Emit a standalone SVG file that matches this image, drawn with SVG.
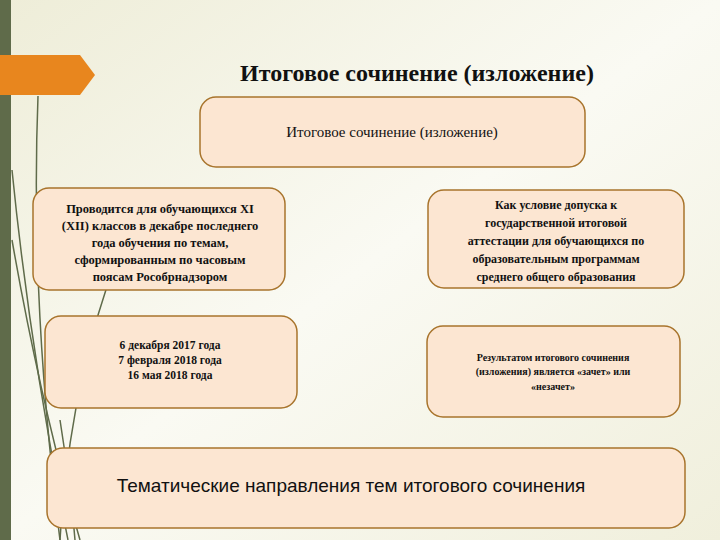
<svg xmlns="http://www.w3.org/2000/svg" width="720" height="540" viewBox="0 0 720 540">
<defs>
<linearGradient id="bg" x1="0" y1="0" x2="1" y2="1">
<stop offset="0" stop-color="#eeedd8"/><stop offset="0.5" stop-color="#fafaf3"/><stop offset="1" stop-color="#f0efdc"/>
</linearGradient>
<style>
.box{fill:#fce6d2;stroke:#a8742c;stroke-width:1.5}
.s{font-family:"Liberation Serif","Times New Roman",serif;font-weight:bold;fill:#111;text-anchor:middle}
.deco{fill:none;stroke:#5f6b4a;stroke-width:1.5}
</style>
</defs>
<rect width="720" height="540" fill="url(#bg)"/>
<rect x="0" y="0" width="11" height="540" fill="#5f6b4a"/>
<g id="decor">
<path class="deco" d="M38 96 Q30 300 60 540"/>
<path class="deco" d="M12 170 Q30 350 68 540" stroke-width="2.5"/>
<path class="deco" d="M12 240 Q40 400 80 540"/>
<path class="deco" d="M120 250 Q70 380 60 540" stroke="#8a9a70" stroke-width="1"/>
<path class="deco" d="M60 420 Q70 480 75 540" stroke-width="2.5"/>
</g>
<polygon id="tab" points="0,55 80,55 95,75 80,95 0,95" fill="#e8861e"/>
<text class="s" x="417" y="81" font-size="24">Итоговое сочинение (изложение)</text>
<g id="top"><rect class="box" x="200" y="97" width="385" height="70" rx="16"/>
<text class="s" x="392" y="137" font-size="15" style="font-weight:normal">Итоговое сочинение (изложение)</text></g>
<g id="left1"><rect class="box" x="33" y="188" width="252" height="102" rx="16"/>
<text class="s" font-size="12.5"><tspan x="160" y="213">Проводится для обучающихся XI</tspan><tspan x="160" y="230">(XII) классов  в декабре последнего</tspan><tspan x="160" y="247">года обучения  по темам,</tspan><tspan x="160" y="264">сформированным по часовым</tspan><tspan x="160" y="281">поясам Рособрнадзором</tspan></text></g>
<g id="right1"><rect class="box" x="428" y="190" width="256" height="98" rx="16"/>
<text class="s" font-size="12"><tspan x="556" y="209">Как условие допуска к</tspan><tspan x="556" y="227">государственной итоговой</tspan><tspan x="556" y="245">аттестации для обучающихся по</tspan><tspan x="556" y="263">образовательным программам</tspan><tspan x="556" y="281">среднего общего образования</tspan></text></g>
<g id="left2"><rect class="box" x="45" y="316" width="252" height="92" rx="16"/>
<text class="s" font-size="11.5"><tspan x="170" y="349">6 декабря  2017 года</tspan><tspan x="170" y="364">7 февраля  2018 года</tspan><tspan x="170" y="379">16 мая  2018 года</tspan></text></g>
<g id="right2"><rect class="box" x="427" y="326" width="253" height="91" rx="16"/>
<text class="s" font-size="10"><tspan x="553" y="361">Результатом  итогового сочинения</tspan><tspan x="553" y="375">(изложения) является  «зачет»  или</tspan><tspan x="553" y="390">«незачет»</tspan></text></g>
<g id="bottom"><rect class="box" x="47" y="448" width="638" height="80" rx="16"/>
<text x="351" y="492" font-family="'Liberation Sans',Arial,sans-serif" font-size="19" text-anchor="middle" fill="#111">Тематические направления тем итогового сочинения</text></g>
<g id="connectors"/>
</svg>
